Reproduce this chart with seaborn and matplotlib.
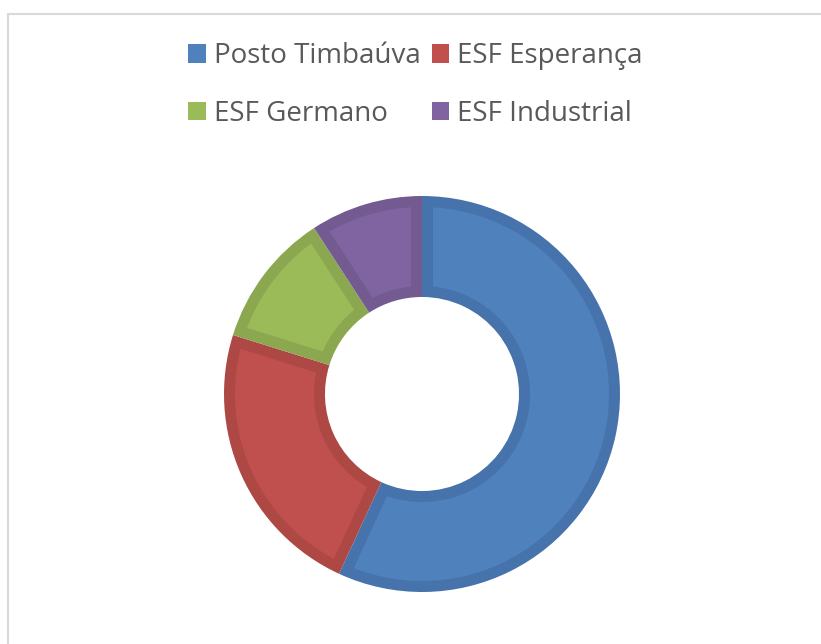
import matplotlib
matplotlib.use("Agg")
import numpy as np
import matplotlib.pyplot as plt
from matplotlib.patches import Patch, Polygon
from matplotlib.lines import Line2D
import seaborn as sns

# data
units = ["Posto Timbaúva", "ESF Esperança", "ESF Germano", "ESF Industrial"]
counts = [62, 25, 12, 10]
fill_colors = ["#4F81BD", "#C0504D", "#9BBB59", "#8064A2"]
edge_colors = ["#4673AB", "#AD4845", "#8BA850", "#735A91"]

sns.set_theme(style="white")
plt.rcParams["font.family"] = ["Open Sans", "DejaVu Sans"]

fig = plt.figure(figsize=(8.21, 6.44), dpi=100)
# pie radius 198 px, centred at (422, 394) px
lim = 1.03
side = 2 * lim * 198
ax = fig.add_axes([(422 - side / 2) / 821, (250 - side / 2) / 644, side / 821, side / 644])

ring = 0.51
wedges, _ = ax.pie(counts, colors=sns.color_palette(edge_colors),
                   startangle=90, counterclock=False, radius=1,
                   wedgeprops=dict(width=ring, linewidth=0))

# lighter inner part of every slice, inset by the border width
d = 11 / 198
for w, fc in zip(wedges, fill_colors):
    t1, t2 = w.theta1, w.theta2
    ro, ri = 1 - d, 1 - ring + d
    ao = np.degrees(np.arcsin(d / ro))
    ai = np.degrees(np.arcsin(d / ri))
    a_out = np.radians(np.linspace(t1 + ao, t2 - ao, 200))
    a_in = np.radians(np.linspace(t2 - ai, t1 + ai, 200))
    pts = np.vstack([np.column_stack([ro * np.cos(a_out), ro * np.sin(a_out)]),
                     np.column_stack([ri * np.cos(a_in), ri * np.sin(a_in)])])
    ax.add_patch(Polygon(pts, closed=True, facecolor=fc, edgecolor="none"))

ax.set_xlim(-lim, lim)
ax.set_ylim(-lim, lim)
ax.set_aspect("equal")
ax.axis("off")

# light frame round the chart
fig.add_artist(Line2D([8 / 821, 1], [1 - 13.5 / 644] * 2, color="#D9D9D9", lw=1.5))
fig.add_artist(Line2D([8 / 821] * 2, [0, 1 - 13.5 / 644], color="#D9D9D9", lw=1.5))

# row-wise legend: reorder for matplotlib's column filling
order = [0, 2, 1, 3]
handles = [Patch(facecolor=fill_colors[i], edgecolor="none") for i in order]
labels = [units[i] for i in order]
fig.legend(handles, labels, loc="center", bbox_to_anchor=(415.5 / 821, 1 - 85 / 644),
           ncol=2, frameon=False, fontsize=20, labelcolor="#595959",
           handlelength=0.64, handleheight=0.64, handletextpad=0.28,
           columnspacing=0.4, labelspacing=1.05)

fig.savefig("out.png", dpi=100)
